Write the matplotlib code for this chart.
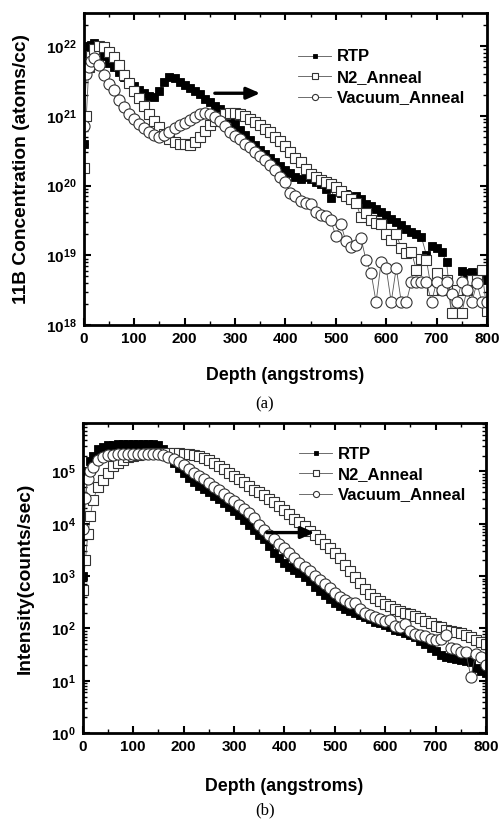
#!/usr/bin/env python3
"""
Boron SIMS depth profiles: RTP vs N2 anneal vs vacuum anneal.
"""

import numpy as np
import matplotlib
matplotlib.use('Agg')
import matplotlib.pyplot as plt
from matplotlib.ticker import MultipleLocator, LogLocator, FuncFormatter, NullFormatter

plt.rcParams['font.family'] = ['Liberation Sans', 'DejaVu Sans']
plt.rcParams['font.weight'] = 'bold'
plt.rcParams['mathtext.fontset'] = 'custom'
plt.rcParams['mathtext.rm'] = 'Liberation Sans:bold'
plt.rcParams['mathtext.bf'] = 'Liberation Sans:bold'

# depth grid (angstroms), same for both panels
depth = [0, 5, 10, 15] + list(range(20, 810, 10))

series_names = ['RTP', 'N2_Anneal', 'Vacuum_Anneal']

# panel (a): log10 of 11B concentration (atoms/cc)
rtp_a_log = [20.6, 21.9, 22.0, 22.02,
             22.04, 22.02, 21.85, 21.76, 21.70, 21.62, 21.55, 21.49,
             21.43, 21.37, 21.32, 21.28, 21.27, 21.36, 21.48, 21.55, 21.54, 21.49,
             21.44, 21.40, 21.36, 21.31, 21.24, 21.19, 21.14, 21.10, 21.04, 20.97,
             20.88, 20.80, 20.72, 20.65, 20.58, 20.51, 20.45, 20.39, 20.33, 20.28,
             20.22, 20.18, 20.12, 20.10, 20.12, 20.10, 20.05, 20.02, 19.95, 19.82,
             20.00, 19.90, 19.88, 19.82, 19.85, 19.80, 19.74, 19.70, 19.66, 19.62,
             19.58, 19.52, 19.48, 19.43, 19.38, 19.34, 19.30, 19.26, 19.00, 19.14,
             19.10, 19.05, 18.90, 18.17, 18.17, 18.78, 18.75, 18.76, 18.70, 18.65,
             18.70]
n2_a_log = [20.25, 21.0, 21.7, 21.85,
            21.95, 22.00, 21.98, 21.92, 21.84, 21.72, 21.59, 21.47,
            21.36, 21.25, 21.14, 21.03, 20.93, 20.84, 20.74, 20.67, 20.62, 20.60,
            20.59, 20.58, 20.62, 20.70, 20.78, 20.86, 20.92, 20.98, 21.02, 21.04,
            21.04, 21.03, 21.00, 20.96, 20.91, 20.86, 20.81, 20.76, 20.70, 20.64,
            20.56, 20.48, 20.40, 20.33, 20.24, 20.17, 20.12, 20.08, 20.05, 20.02,
            19.98, 19.92, 19.85, 19.80, 19.75, 19.55, 19.60, 19.50, 19.46, 19.45,
            19.30, 19.22, 19.30, 19.10, 19.03, 19.05, 18.79, 18.95, 18.93, 18.50,
            18.75, 18.50, 18.64, 18.17, 18.50, 18.17, 18.50, 18.64, 18.64, 18.79,
            18.20]
vac_a_log = [20.85, 21.6, 21.7, 21.78,
             21.82, 21.72, 21.58, 21.45, 21.37, 21.23, 21.12, 21.02,
             20.96, 20.88, 20.82, 20.76, 20.72, 20.69, 20.72, 20.77, 20.82, 20.86,
             20.90, 20.94, 20.98, 21.02, 21.04, 21.02, 20.98, 20.92, 20.85, 20.77,
             20.71, 20.66, 20.60, 20.55, 20.48, 20.42, 20.37, 20.30, 20.22, 20.12,
             20.05, 19.90, 19.85, 19.78, 19.75, 19.73, 19.62, 19.58, 19.56, 19.50,
             19.28, 19.45, 19.20, 19.12, 19.15, 19.25, 18.93, 18.75, 18.33, 18.90,
             18.82, 18.33, 18.82, 18.33, 18.33, 18.62, 18.62, 18.62, 18.62, 18.33,
             18.62, 18.50, 18.62, 18.45, 18.33, 18.62, 18.50, 18.33, 18.60, 18.33,
             18.33]

# panel (b): log10 of intensity (counts/sec)
rtp_b_log = [3.0, 4.5, 5.0, 5.2,
             5.30, 5.42, 5.47, 5.50, 5.51, 5.52, 5.52, 5.52,
             5.52, 5.52, 5.53, 5.53, 5.52, 5.51, 5.42, 5.28, 5.17, 5.07,
             4.97, 4.88, 4.80, 4.73, 4.66, 4.60, 4.54, 4.47, 4.40, 4.32,
             4.25, 4.16, 4.08, 3.98, 3.88, 3.79, 3.70, 3.57, 3.45, 3.34,
             3.26, 3.18, 3.12, 3.06, 2.98, 2.90, 2.80, 2.72, 2.64, 2.56,
             2.49, 2.43, 2.38, 2.34, 2.30, 2.26, 2.22, 2.18, 2.13, 2.10,
             2.06, 2.02, 1.98, 1.95, 1.91, 1.88, 1.84, 1.76, 1.70, 1.63,
             1.57, 1.50, 1.45, 1.44, 1.42, 1.40, 1.38, 1.36, 1.25, 1.18,
             1.15]
n2_b_log = [2.74, 3.3, 3.8, 4.15,
            4.45, 4.70, 4.84, 4.98, 5.10, 5.17, 5.22, 5.27,
            5.30, 5.32, 5.34, 5.35, 5.36, 5.36, 5.36, 5.36, 5.36, 5.35,
            5.34, 5.33, 5.31, 5.29, 5.26, 5.22, 5.17, 5.11, 5.05, 4.98,
            4.92, 4.86, 4.79, 4.72, 4.65, 4.60, 4.55, 4.48, 4.41, 4.34,
            4.26, 4.18, 4.10, 4.04, 3.96, 3.87, 3.79, 3.70, 3.62, 3.53,
            3.45, 3.35, 3.22, 3.10, 2.98, 2.86, 2.76, 2.65, 2.58, 2.52,
            2.46, 2.42, 2.38, 2.34, 2.30, 2.27, 2.24, 2.20, 2.14, 2.10,
            2.05, 2.02, 1.98, 1.96, 1.93, 1.91, 1.88, 1.84, 1.78, 1.74,
            1.70]
vac_b_log = [3.9, 4.5, 4.85, 5.0,
             5.08, 5.22, 5.28, 5.31, 5.32, 5.33, 5.33, 5.33,
             5.33, 5.33, 5.33, 5.33, 5.33, 5.33, 5.31, 5.28, 5.24, 5.18,
             5.12, 5.05, 4.98, 4.92, 4.85, 4.78, 4.70, 4.64, 4.57, 4.50,
             4.44, 4.36, 4.28, 4.20, 4.11, 3.97, 3.88, 3.79, 3.70, 3.62,
             3.54, 3.44, 3.35, 3.25, 3.17, 3.09, 3.01, 2.93, 2.85, 2.77,
             2.68, 2.60, 2.55, 2.49, 2.48, 2.38, 2.30, 2.25, 2.22, 2.18,
             2.15, 2.16, 2.05, 2.03, 2.08, 1.95, 1.90, 1.88, 1.86, 1.80,
             1.78, 1.80, 1.88, 1.62, 1.60, 1.56, 1.55, 1.08, 1.52, 1.45,
             1.30]

# arrows (depth start, depth end, value)
arrow_a = (260, 350, 2.1e21)
arrow_b = (365, 460, 6.8e3)

STYLES = [
    dict(marker='s', ms=6.3, mfc='black', mec='black', mew=0.6),
    dict(marker='s', ms=7.0, mfc='white', mec='#333333', mew=0.8),
    dict(marker='o', ms=8.0, mfc='white', mec='#333333', mew=0.8),
]


def decade_label(v, pos):
    if v <= 0:
        return ''
    e = int(round(np.log10(v)))
    return r'$\mathbf{10^{%d}}$' % e


def draw_panel(ax, logs, ylim, ylabel, arrow, legend_anchor, xlabel_pad):
    x = np.array(depth)
    for name, lg, st in zip(series_names, logs, STYLES):
        ax.plot(x, 10 ** np.array(lg), color='#555555', lw=0.6,
                label=name, **st)

    ax.set_yscale('log')
    ax.set_xlim(0, 800)
    ax.set_ylim(*ylim)

    ax.xaxis.set_major_locator(MultipleLocator(100))
    ax.xaxis.set_minor_locator(MultipleLocator(50))
    ax.yaxis.set_major_locator(LogLocator(base=10, numticks=20))
    ax.yaxis.set_minor_locator(LogLocator(base=10, subs=np.arange(2, 10), numticks=20))
    ax.yaxis.set_major_formatter(FuncFormatter(decade_label))
    ax.yaxis.set_minor_formatter(NullFormatter())

    ax.tick_params(which='both', direction='in', top=True, right=True)
    ax.tick_params(which='major', length=5, width=1.5, labelsize=11, pad=5)
    ax.tick_params(which='minor', length=3, width=1.0)
    for lbl in ax.get_xticklabels():
        lbl.set_fontweight('bold')
    for sp in ax.spines.values():
        sp.set_linewidth(2.0)

    ax.set_xlabel('Depth (angstroms)', fontsize=12.8, fontweight='bold',
                  labelpad=xlabel_pad)
    ax.set_ylabel(ylabel, fontsize=13.8, fontweight='bold', labelpad=12)

    x0, x1, yv = arrow
    ax.annotate('', xy=(x1, yv), xytext=(x0, yv),
                arrowprops=dict(arrowstyle='-|>,head_length=0.8,head_width=0.35',
                                color='black', lw=2.4, shrinkA=0, shrinkB=0))

    ax.legend(loc='upper left', bbox_to_anchor=legend_anchor, frameon=False,
              fontsize=12, handlelength=2.0, handletextpad=0.3,
              labelspacing=0.33, markerscale=0.55, borderaxespad=0)


def main():
    fig = plt.figure(figsize=(5.02, 8.21), dpi=100)

    ax_a = fig.add_axes([0.167, 0.604, 0.803, 0.380])
    draw_panel(ax_a, [rtp_a_log, n2_a_log, vac_a_log], (1e18, 2.95e22),
               '11B Concentration (atoms/cc)', arrow_a, (0.515, 0.905), 15)

    ax_b = fig.add_axes([0.165, 0.107, 0.803, 0.378])
    draw_panel(ax_b, [rtp_b_log, n2_b_log, vac_b_log], (1e0, 8.5e5),
               'Intensity(counts/sec)', arrow_b, (0.52, 0.945), 17)

    fig.text(0.528, 0.508, '(a)', family='Liberation Serif', fontsize=12,
             fontweight='normal', ha='center', va='center')
    fig.text(0.528, 0.013, '(b)', family='Liberation Serif', fontsize=12,
             fontweight='normal', ha='center', va='center')

    fig.savefig('out.png', dpi=100)
    plt.close(fig)


if __name__ == '__main__':
    main()
